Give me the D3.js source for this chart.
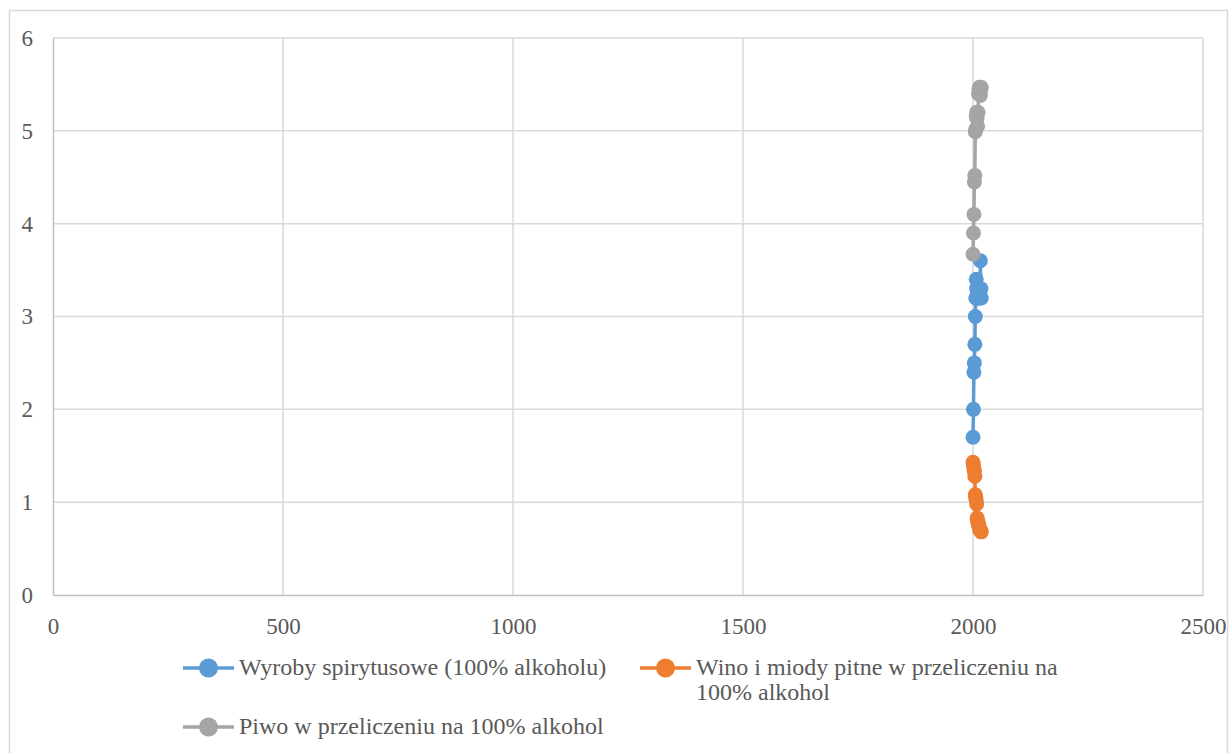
<!DOCTYPE html>
<html><head><meta charset="utf-8">
<script src="https://cdn.jsdelivr.net/npm/d3@7"></script>
<style>body{margin:0;background:#fff}svg{display:block}text{font-family:"Liberation Serif","Times New Roman","DejaVu Serif",serif !important;fill:#595959}</style>
</head><body><svg id="c" width="1229" height="753"></svg>
<script>
const years = [2000,2001,2002,2003,2004,2005,2006,2007,2008,2009,2010,2011,2012,2013,2014,2015,2016,2017,2018];
const spirits = [1.7,2.0,2.4,2.5,2.7,3.0,3.2,3.4,3.3,3.2,3.3,3.2,3.3,3.2,3.3,3.2,3.6,3.3,3.2];
const wine = [1.43,1.40,1.36,1.33,1.28,1.08,1.05,1.02,0.98,0.83,0.80,0.78,0.76,0.74,0.72,0.70,0.70,0.69,0.68];
const beer = [3.67,3.9,4.1,4.45,4.52,4.99,5.02,5.15,5.2,5.14,5.05,5.2,5.4,5.45,5.47,5.42,5.38,5.45,5.47];
const seriesNames = ["Wyroby spirytusowe (100% alkoholu)","Wino i miody pitne w przeliczeniu na 100% alkohol","Piwo w przeliczeniu na 100% alkohol"];
const xTicks = [0,500,1000,1500,2000,2500];
const yTicks = [0,1,2,3,4,5,6];
const colors = ["#5B9BD5","#ED7D31","#A5A5A5"];

const svg = d3.select("#c");
svg.append("rect").attr("x",9.5).attr("y",10.5).attr("width",1218).attr("height",760)
  .attr("fill","#fff").attr("stroke","#D9D9D9").attr("stroke-width",1.5);

const x = d3.scaleLinear().domain([0,2500]).range([53,1203]);
const y = d3.scaleLinear().domain([0,6]).range([595,38]);

svg.append("g").selectAll("line").data(yTicks.filter(d=>d>0)).join("line")
  .attr("x1",x(0)).attr("x2",x(2500)).attr("y1",d=>y(d)).attr("y2",d=>y(d))
  .attr("stroke","#D9D9D9").attr("stroke-width",1.5);
svg.append("g").selectAll("line").data(xTicks.filter(d=>d>0)).join("line")
  .attr("y1",y(0)).attr("y2",y(6)).attr("x1",d=>x(d)).attr("x2",d=>x(d))
  .attr("stroke","#D9D9D9").attr("stroke-width",1.5);

const xAxis = svg.append("g").attr("transform",`translate(0,${y(0)})`)
  .call(d3.axisBottom(x).tickValues(xTicks).tickSize(0).tickPadding(23).tickFormat(d3.format("d")));
const yAxis = svg.append("g").attr("transform",`translate(${x(0)},0)`)
  .call(d3.axisLeft(y).tickValues(yTicks).tickSize(0).tickPadding(20).tickFormat(d3.format("d")));
[xAxis,yAxis].forEach(a=>{
  a.attr("font-family",null).attr("font-size",null);
  a.select(".domain").attr("stroke","#BFBFBF").attr("stroke-width",1.5);
  a.selectAll("text").style("font-size","23px").attr("fill","#595959");
});

const data = [spirits,wine,beer];
const line = d3.line().x((d,i)=>x(years[i])).y(d=>y(d));
data.forEach((vals,k)=>{
  const g = svg.append("g");
  g.append("path").datum(vals).attr("d",line).attr("fill","none")
    .attr("stroke",colors[k]).attr("stroke-width",3.5);
  g.selectAll("circle").data(vals).join("circle")
    .attr("cx",(d,i)=>x(years[i])).attr("cy",d=>y(d)).attr("r",7.5).attr("fill",colors[k]);
});

const legend = [
  {lx:183, ly:668, lines:[seriesNames[0]]},
  {lx:640, ly:668, lines:["Wino i miody pitne w przeliczeniu na","100% alkohol"]},
  {lx:183, ly:727, lines:[seriesNames[2]]}
];
legend.forEach((L,k)=>{
  const g = svg.append("g");
  g.append("line").attr("x1",L.lx).attr("x2",L.lx+51).attr("y1",L.ly).attr("y2",L.ly)
    .attr("stroke",colors[k]).attr("stroke-width",3.5);
  g.append("circle").attr("cx",L.lx+25.5).attr("cy",L.ly).attr("r",9.5).attr("fill",colors[k]);
  const t = g.append("text").attr("x",L.lx+56).attr("y",L.ly+7).style("font-size","24px");
  L.lines.forEach((s,j)=>t.append("tspan").attr("x",L.lx+56).attr("dy",j?25:0).text(s));
});
</script></body></html>
